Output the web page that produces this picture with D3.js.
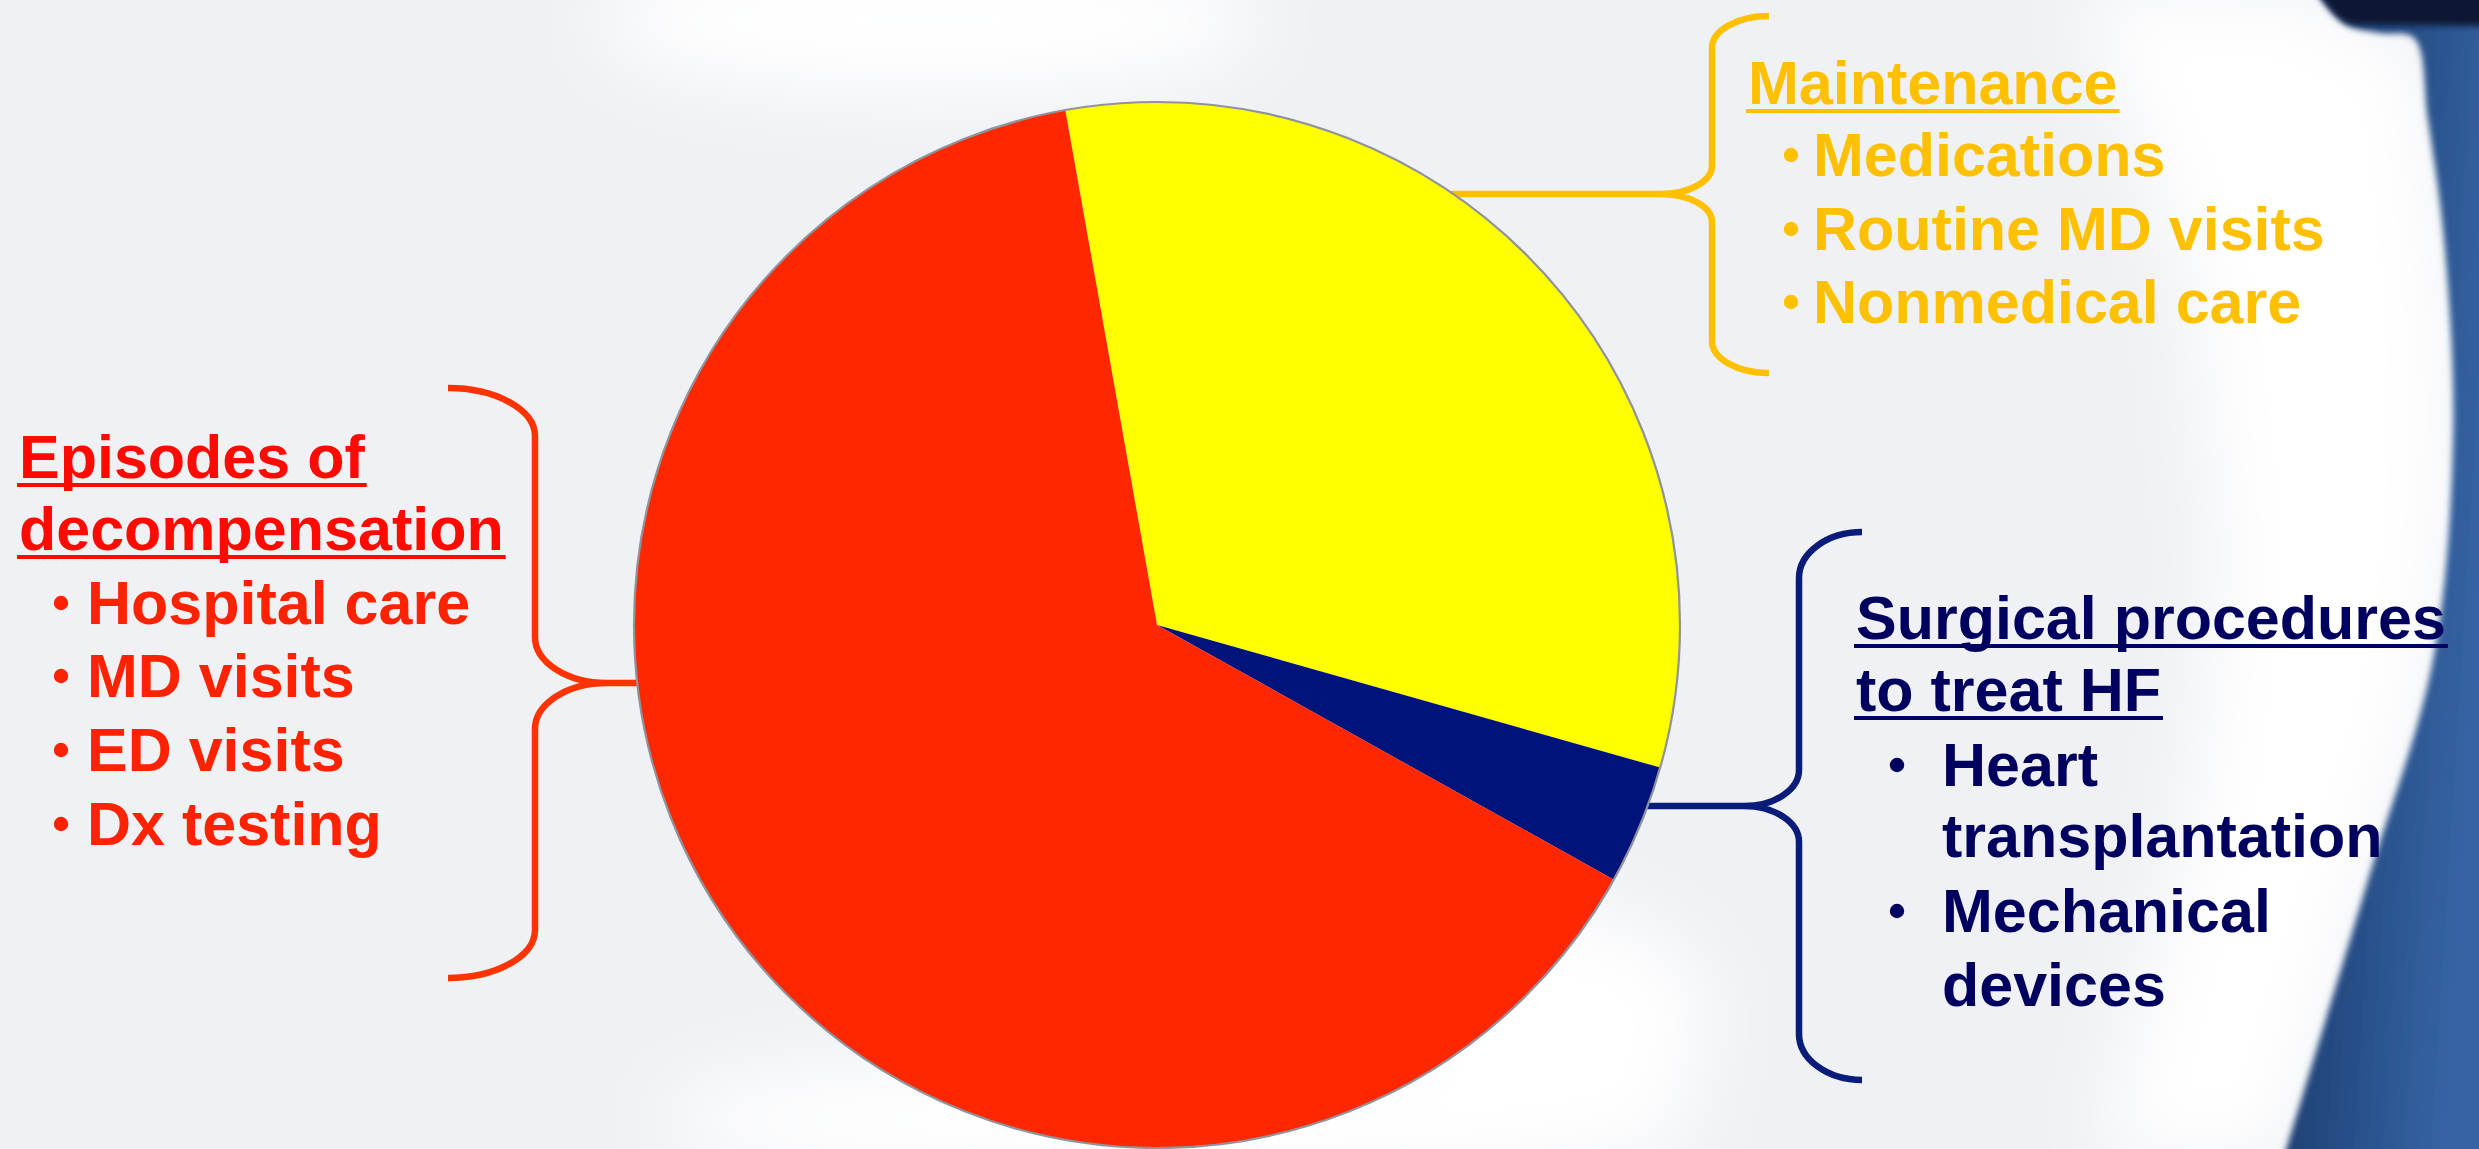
<!DOCTYPE html>
<html>
<head>
<meta charset="utf-8">
<script src="https://cdn.jsdelivr.net/npm/d3@7"></script>
<style>
  html, body { margin: 0; padding: 0; background: #eff1f5; overflow: hidden; }
  svg { display: block; }
  text { font-family: "Liberation Sans", Arial, sans-serif; font-weight: bold; }
</style>
</head>
<body>
<svg id="chart" width="2479" height="1149"></svg>
<script>
// Share of heart-failure costs by category (percent)
const categories = ["Maintenance", "Surgical procedures to treat HF", "Episodes of decompensation"];
const shares = [32.2, 3.7, 64.1];

// Label texts
const maintenanceHeading = ["Maintenance"];
const maintenanceItems = ["Medications", "Routine MD visits", "Nonmedical care"];
const surgicalHeading = ["Surgical procedures", "to treat HF"];
const surgicalItems = [["Heart", "transplantation"], ["Mechanical", "devices"]];
const episodeHeading = ["Episodes of", "decompensation"];
const episodeItems = ["Hospital care", "MD visits", "ED visits", "Dx testing"];

const W = 2479, H = 1149;
const svg = d3.select("#chart");
const defs = svg.append("defs");

// ---------- background ----------
svg.append("rect").attr("width", W).attr("height", H).attr("fill", "#eff1f5");

defs.append("filter").attr("id", "haze").attr("x", "-50%").attr("y", "-50%").attr("width", "200%").attr("height", "200%")
  .append("feGaussianBlur").attr("stdDeviation", 38);
defs.append("filter").attr("id", "soft").attr("x", "-20%").attr("y", "-20%").attr("width", "140%").attr("height", "140%")
  .append("feGaussianBlur").attr("stdDeviation", 3);

const edgePts = [[2316, -8], [2345, 24], [2380, 33], [2414, 38], [2428, 120], [2445, 250],
                 [2453, 440], [2433, 660], [2368, 880], [2283, 1160]];
const curveLine = d3.line().curve(d3.curveCatmullRom.alpha(0.5));

// white glow along the right-hand swoosh
const haze = svg.append("g").attr("filter", "url(#haze)");
haze.append("path")
  .attr("d", curveLine(edgePts) + "L2100,1160 L2190,820 L2220,560 L2190,280 L2080,-10 Z")
  .attr("fill", "#ffffff");
haze.append("ellipse").attr("cx", 930).attr("cy", 20).attr("rx", 330).attr("ry", 75).attr("fill", "#ffffff");
haze.append("ellipse").attr("cx", 1180).attr("cy", 1120).attr("rx", 520).attr("ry", 70).attr("fill", "#ffffff");
haze.append("ellipse").attr("cx", 1560).attr("cy", 1020).attr("rx", 150).attr("ry", 110).attr("fill", "#ffffff");

// blue band at the right edge
const blueGrad = defs.append("linearGradient").attr("id", "blueBand")
  .attr("x1", "0").attr("y1", "0").attr("x2", "1").attr("y2", "0.35");
blueGrad.append("stop").attr("offset", "0").attr("stop-color", "#16305c");
blueGrad.append("stop").attr("offset", "0.45").attr("stop-color", "#23487f");
blueGrad.append("stop").attr("offset", "1").attr("stop-color", "#3564a3");
svg.append("path")
  .attr("d", curveLine(edgePts) + `L${W + 10},${H + 10} L${W + 10},-10 Z`)
  .attr("fill", "url(#blueBand)")
  .attr("filter", "url(#soft)");
// dark strip along the top edge of the band
svg.append("path")
  .attr("d", `M2318,-8 C2330,8 2338,20 2352,24 L${W + 10},26 L${W + 10},-8 Z`)
  .attr("fill", "#0a1833").attr("filter", "url(#soft)");

// ---------- pie ----------
const cx = 1157, cy = 625, radius = 523;
const deg = Math.PI / 180;
const startA = -10.1 * deg;
const pie = d3.pie().sort(null).value(d => d).startAngle(startA).endAngle(startA + 2 * Math.PI);
const arc = d3.arc().innerRadius(0).outerRadius(radius);
const sliceColors = ["#ffff00", "#00137a", "#ff2700"];

// x of the pie rim at a given y, on the left or right side
const rimX = (y, side) => cx + side * Math.sqrt(radius * radius - (y - cy) * (y - cy));

// ---------- braces ----------
function bracePath(xEnd, xSpine, xTip, yTop, yTip, yBot, k1, k2) {
  const p = d3.path();
  p.moveTo(xEnd, yTop);
  p.bezierCurveTo(xEnd + (xSpine - xEnd) * 0.55, yTop, xSpine, yTop + k1 * 0.45, xSpine, yTop + k1);
  p.lineTo(xSpine, yTip - k2);
  p.bezierCurveTo(xSpine, yTip - k2 * 0.45, xSpine + (xTip - xSpine) * 0.45, yTip, xTip, yTip);
  p.bezierCurveTo(xSpine + (xTip - xSpine) * 0.45, yTip, xSpine, yTip + k2 * 0.45, xSpine, yTip + k2);
  p.lineTo(xSpine, yBot - k1);
  p.bezierCurveTo(xSpine, yBot - k1 * 0.45, xEnd + (xSpine - xEnd) * 0.55, yBot, xEnd, yBot);
  return p.toString();
}

const braces = [
  { color: "#ffc000", xEnd: 1769, xSpine: 1712, xTip: 1660, yTop: 16, yTip: 194, yBot: 373, k1: 32, k2: 28, side: 1 },
  { color: "#0a1c7a", xEnd: 1862, xSpine: 1799, xTip: 1744, yTop: 532, yTip: 806, yBot: 1080, k1: 46, k2: 36, side: 1 },
  { color: "#ff3300", xEnd: 448, xSpine: 535, xTip: 607, yTop: 388, yTip: 683, yBot: 978, k1: 48, k2: 46, side: -1 }
];

const braceG = svg.append("g").attr("fill", "none").attr("stroke-width", 6.5);
braces.forEach(b => {
  braceG.append("path")
    .attr("d", bracePath(b.xEnd, b.xSpine, b.xTip, b.yTop, b.yTip, b.yBot, b.k1, b.k2))
    .attr("stroke", b.color);
  braceG.append("line")
    .attr("x1", b.xTip).attr("y1", b.yTip)
    .attr("x2", rimX(b.yTip, b.side) - b.side * 4).attr("y2", b.yTip)
    .attr("stroke", b.color);
});

const pieG = svg.append("g").attr("transform", `translate(${cx},${cy})`);
pieG.selectAll("path.slice")
  .data(pie(shares))
  .join("path")
  .attr("class", "slice")
  .attr("d", arc)
  .attr("fill", (d, i) => sliceColors[i]);
pieG.append("circle").attr("r", radius).attr("fill", "none")
  .attr("stroke", "#8f939c").attr("stroke-width", 2.2);

// ---------- labels ----------
const fs = 61;
function heading(lines, x, baselines, color) {
  lines.forEach((t, i) => {
    const el = svg.append("text").attr("x", x).attr("y", baselines[i])
      .attr("font-size", fs).attr("fill", color).text(t);
    const len = el.node().getComputedTextLength();
    svg.append("line").attr("x1", x - 2).attr("x2", x + len + 2)
      .attr("y1", baselines[i] + 7).attr("y2", baselines[i] + 7)
      .attr("stroke", color).attr("stroke-width", 3.8);
  });
}
function bulletLines(items, bx, tx, baselines, color) {
  let row = 0;
  items.forEach(item => {
    const lines = Array.isArray(item) ? item : [item];
    svg.append("circle").attr("cx", bx).attr("cy", baselines[row] - 21).attr("r", 7.2).attr("fill", color);
    lines.forEach(t => {
      svg.append("text").attr("x", tx).attr("y", baselines[row])
        .attr("font-size", fs).attr("fill", color).text(t);
      row++;
    });
  });
}

// Maintenance
heading(maintenanceHeading, 1748, [104], "#ffc000");
bulletLines(maintenanceItems, 1791, 1813, [176, 250, 323], "#ffc000");

// Surgical procedures
heading(surgicalHeading, 1856, [639, 711], "#00005e");
bulletLines(surgicalItems, 1897, 1942, [786, 857, 932, 1006], "#00005e");

// Episodes of decompensation
heading(episodeHeading, 19, [478, 550], "#ff0a00");
bulletLines(episodeItems, 61, 87, [624, 697, 771, 845], "#ff2200");
</script>
</body>
</html>
